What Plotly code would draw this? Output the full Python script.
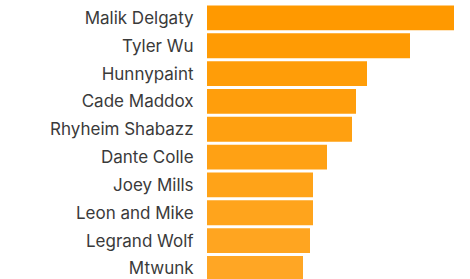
import plotly.graph_objects as go

names = ["Malik Delgaty", "Tyler Wu", "Hunnypaint", "Cade Maddox", "Rhyheim Shabazz",
         "Dante Colle", "Joey Mills", "Leon and Mike", "Legrand Wolf", "Mtwunk"]
values = [247, 203, 160, 149, 145, 120, 106, 106, 103, 96]
colors = ["#FF9900", "#FF9B04", "#FF9D08", "#FF9E0C", "#FFA010",
          "#FFA114", "#FFA318", "#FFA41C", "#FFA520", "#FFA624"]

fig = go.Figure(go.Bar(
    x=values, y=names, orientation="h",
    marker=dict(color=colors, line=dict(width=0)),
    width=0.89,
))
fig.update_layout(
    width=470, height=279,
    margin=dict(l=207, r=0, t=4, b=0),
    paper_bgcolor="white", plot_bgcolor="white",
    showlegend=False,
    font=dict(family="Inter", size=17, color="#3a3a3a"),
    xaxis=dict(range=[0, 263], visible=False, fixedrange=True),
    yaxis=dict(range=[9.38, -0.5], autorange=False, showgrid=False, zeroline=False,
               showline=False, ticks="outside", ticklen=9, tickcolor="rgba(0,0,0,0)",
               tickfont=dict(family="Inter", size=17, color="#3a3a3a")),
)
fig.write_html("out.html")
